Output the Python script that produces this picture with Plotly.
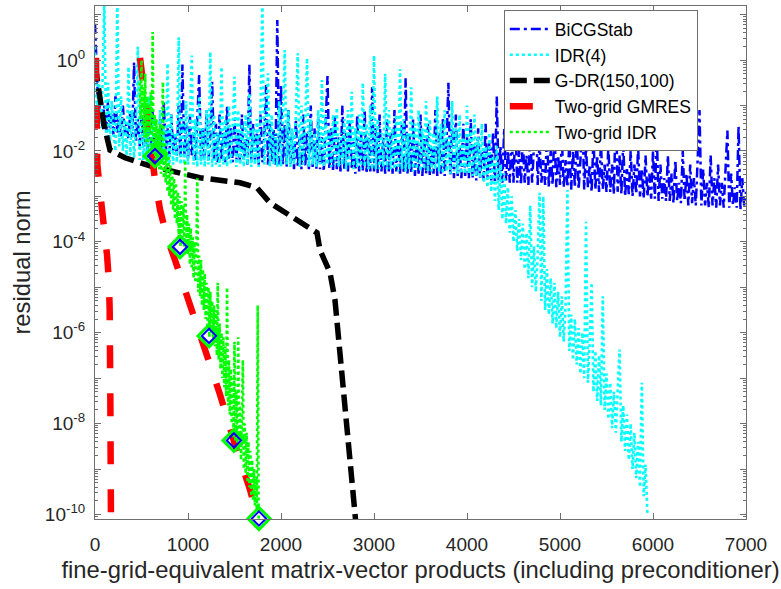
import plotly.graph_objects as go

# ---------------- data (x: matrix-vector products, e: log10 of residual norm) -------------
# BiCGStab: one value every 20 matrix-vector products, 0 .. 7000
bicg_x = list(range(0, 7001, 20))
bicg_e = [
    0.8, -0.4, -1.3, -0.7, -1.5, -1.0, -1.6, -0.9, -1.5, -1.2, -1.65, -0.8, -1.6, -1.3, -1.7, -1.0, -1.6, -1.4, -1.75, -1.1, -1.7, -0.05, -1.8, -1.3, -1.9,
    -1.2, -1.9, -1.0, -2.0, -1.5, -1.9, -1.1, -2.05, -1.6, -2.0, -1.3, -2.1, -0.9, -2.0, -1.5, -2.1, -1.2, -2.0, -1.6, -2.1, -1.0, -2.15, -0.1, -2.1, -1.4,
    -2.2, -1.2, -2.1, -1.6, -2.2, -1.3, -0.33, -2.2, -1.5, -2.15, -1.1, -2.2, -1.7, -0.48, -2.2, -1.4, -2.25, -1.2, -2.2, -1.6, -2.25, -1.0, -2.2, -1.5, -2.25,
    -1.3, -2.2, -1.6, -2.25, -1.2, -2.2, -1.7, -2.3, -0.1, -2.25, -1.4, -2.2, -1.6, -2.3, -1.2, -2.25, -1.7, -0.55, -2.3, -1.4, -2.25, -1.5, -2.3, 0.88, -2.3,
    -0.55, -2.3, -1.4, -2.35, -1.1, -2.3, -1.6, -2.4, -1.3, -2.35, -1.7, -2.4, -1.2, -2.35, -1.6, -2.4, -1.0, -2.35, -1.5, -2.4, -1.3, -2.4, -1.7, -2.45, -1.2,
    -0.35, -2.4, -1.5, -2.45, -1.2, -2.4, -1.7, -2.45, -1.0, -2.4, -1.6, -2.45, -1.3, -2.4, -1.8, -2.5, -1.2, -2.45, -1.6, -2.45, -1.1, -2.5, -1.7, -2.45, -0.6,
    -2.45, -1.5, -2.5, -1.2, -2.45, -1.7, -2.5, -1.3, -2.45, -1.6, -2.5, -1.1, -2.45, -1.8, -2.5, -1.4, -2.5, -0.4, -2.5, -1.6, -2.5, -1.3, -2.55, -1.8, -2.5,
    -1.2, -2.55, -1.7, -2.5, -1.4, -2.55, -1.9, -2.5, -1.1, -2.55, -1.6, -2.5, -1.3, -2.55, -1.8, -0.5, -2.55, -1.5, -2.6, -1.2, -2.55, -1.9, -2.6, -1.4, -2.55,
    -1.7, -2.6, -1.3, -2.6, -1.9, -2.65, -1.5, -2.6, -2.0, -2.65, -1.4, -2.6, -1.8, -2.65, -1.6, -2.7, -0.8, -2.65, -1.9, -2.7, -1.5, -2.65, -2.0, -2.7, -1.6,
    -2.7, -1.4, -2.7, -2.0, -2.75, -1.7, -2.7, -2.1, -2.75, -1.5, -2.7, -1.9, -0.7, -2.75, -1.8, -2.7, -2.2, -2.75, -1.6, -2.8, -2.0, -2.75, -1.5, -2.8, -2.1,
    -2.75, -1.7, -2.8, -2.2, -2.8, -1.8, -2.85, -2.0, -2.8, -1.6, -2.85, -2.2, -1.1, -2.85, -1.9, -2.8, -2.3, -2.9, -1.7, -2.85, -2.1, -2.9, -1.8, -2.85, -2.3,
    -2.9, -1.9, -2.9, -2.3, -2.95, -0.9, -2.9, -2.1, -2.95, -1.8, -3.0, -2.4, -2.95, -2.0, -3.0, -2.3, -2.95, -1.9, -3.0, -2.4, -3.05, -2.1, -3.0, -2.5, -3.05,
    -2.0, -3.05, -1.55, -3.1, -2.3, -3.05, -2.6, -3.1, -2.1, -3.1, -2.5, -3.15, -2.2, -3.1, -2.7, -3.15, -2.0, -3.1, -2.5, -3.2, -2.3, -3.15, -2.6, -3.2, -2.2,
    -1.1, -3.2, -2.4, -3.2, -2.7, -3.25, -2.1, -3.2, -2.6, -3.25, -2.3, -3.2, -2.7, -3.25, -2.2, -1.55, -3.25, -2.5, -3.2, -2.8, -3.25, -1.45, -3.3, -2.6, -3.2,
    -2.9]

# IDR(4): one value every 20 matrix-vector products, 0 .. 5940
idr_x = list(range(0, 5941, 20))
idr_e = [
    0.3, -1.2, -0.3, -1.5, -0.6, 1.3, -1.7, -0.5, -1.9, -0.9, -1.6, -2.0, 1.3, -1.9, -0.8, -2.0, -1.3, -2.1, -0.15, -2.1, -1.1, -2.15, -1.5, 0.29, -2.2,
    -1.0, -2.2, -1.4, -2.25, -0.8, -2.2, -1.3, -2.25, -1.6, -2.2, -1.1, -2.3, -1.5, -2.25, -0.07, -2.3, -1.2, -2.3, -1.6, -2.25, 0.5, -2.3, -1.3, -2.3, -0.9,
    -2.3, -1.4, 0.1, -2.3, -1.3, -2.35, -0.8, -2.3, -1.5, -2.35, -1.1, -2.3, 0.18, -2.35, -1.2, -2.3, -1.6, -2.35, -0.15, -2.3, -1.3, -2.35, -1.0, -2.3, -1.5,
    -0.37, -2.35, -1.1, -2.3, -1.4, -2.35, -1.2, -2.3, -0.73, -2.35, -1.5, -2.3, -1.3, -2.35, -1.0, 1.3, -2.3, -1.4, -0.29, -2.35, -1.2, -2.3, -1.6, -2.35, -0.9,
    -2.35, -1.3, 0.22, -2.3, -1.1, -2.35, -1.5, -2.3, -1.2, 0.15, -2.35, -1.0, -2.3, -1.4, 0.04, -2.35, -1.3, -2.3, -1.6, -2.35, -1.1, -2.3, -0.44, -2.35, -1.2,
    -2.3, -1.5, -2.35, -1.2, -2.3, -1.05, -2.35, -1.6, -2.3, -1.3, -2.4, -1.1, -2.35, -0.7, -2.4, -1.5, -2.35, -1.2, -2.4, -0.5, -2.35, -1.4, -2.4, -1.0, -2.4,
    0.1, -2.4, -1.3, -2.4, -1.6, -2.35, -0.3, -2.4, -1.1, -2.4, -1.5, -2.4, -1.2, -2.45, -0.2, -2.4, -1.3, -2.45, -1.6, -2.4, -0.6, -2.45, -1.4, -2.4, -1.1,
    -2.45, -1.5, -2.4, -0.9, -2.45, -1.3, -2.45, -1.6, -2.4, -0.8, -2.45, -1.4, -2.5, -1.1, -2.45, -1.7, -2.5, -0.9, -2.45, -1.5, -2.5, -1.2, -2.5, -1.7, -2.5,
    -1.0, -2.5, -1.5, -2.55, -1.2, -2.55, -1.7, -2.6, -1.4, -2.7, -1.9, -2.8, -1.6, -2.9, -2.1, -3.1, -1.9, -3.3, -2.3, -3.5, -2.5, -3.6, -2.8, -3.8, -3.0,
    -4.0, -3.3, -4.2, -3.5, -4.4, -3.6, -4.6, -3.8, -4.8, -3.2, -5.0, -4.1, -5.1, -4.3, -2.92, -5.3, -3.0, -5.5, -4.6, -5.6, -4.8, -5.8, -4.9, -5.9, -5.1,
    -6.1, -5.2, -6.2, -5.4, -2.86, -6.4, -5.6, -6.6, -5.7, -6.7, -5.9, -6.9, -6.0, -7.0, -3.56, -7.1, -6.2, -4.9, -7.3, -6.4, -7.5, -6.5, -7.6, -5.2, -7.7,
    -6.9, -7.9, -7.1, -8.1, -7.3, -8.2, -7.4, -6.37, -8.4, -7.6, -8.6, -7.8, -8.8, -8.0, -9.0, -8.2, -9.2, -8.4, -9.4, -7.1, -9.6, -8.9, -10.0]

# G-DR(150,100)
gdr_x = [0, 54, 97, 161, 323, 591, 860, 1129, 1559, 1742, 1881, 2204, 2387, 2419, 2527, 2580, 2634, 2688, 2742, 2810]
gdr_e = [-0.1, -0.88, -1.43, -1.98, -2.15, -2.33, -2.46, -2.59, -2.70, -2.81, -3.14, -3.58, -3.80, -4.18, -4.68,
         -5.27, -6.37, -7.47, -8.57, -10.3]

# Two-grid GMRES (two runs drawn with the same style)
tg_gmres1_x = [10, 10, 15, 25, 60, 100, 130, 150, 158, 165, 172]
tg_gmres1_e = [0.05, -1.6, -2.0, -2.3, -3.0, -3.7, -4.3, -4.9, -5.5, -7.5, -10.3]
tg_gmres2_x = [484, 520, 560, 600, 645, 700, 774, 860, 1021, 1183, 1344, 1505, 1666, 1765]
tg_gmres2_e = [0.05, -0.6, -1.4, -2.1, -2.64, -3.3, -3.9, -4.4, -5.38, -6.42, -7.36, -8.46, -9.45, -10.2]

# Two-grid IDR: one value every 10 matrix-vector products, 480 .. 1760
tg_idr_x = list(range(480, 1761, 10))
tg_idr_e = [
    -0.5, -1.3, 0.0, -1.5, -0.6, -1.7, -0.3, -1.8, -0.8, -1.9, -1.0, -1.6, -0.7, -2.0, 0.62, -2.1, -1.2, -2.2, -1.3, -2.3, -1.5, -2.4, -1.4, -2.5, -1.7,
    -0.48, -2.6, -1.8, -2.7, -2.0, -2.9, -2.1, -3.0, -2.3, -3.2, -2.4, -3.3, -2.6, -3.5, -2.7, -3.6, -2.9, -3.9, -3.0, -4.1, -3.1, -3.9, -3.2, -4.1, -2.2,
    -4.2, -3.4, -4.3, -3.6, -4.5, -3.7, -4.6, -3.9, -4.8, -4.0, -4.9, -4.1, -2.6, -5.1, -4.3, -5.2, -4.4, -5.4, -4.6, -5.5, -4.7, -5.7, -4.9, -5.9, -5.0,
    -6.1, -5.1, -6.0, -5.3, -6.2, -5.4, -6.3, -5.5, -6.5, -4.9, -6.6, -5.8, -6.8, -6.0, -7.0, -6.1, -7.2, -6.3, -7.4, -5.0, -7.6, -6.6, -7.8, -6.8, -8.0,
    -7.0, -8.3, -6.2, -8.4, -7.3, -8.5, -6.1, -8.6, -7.6, -8.8, -7.8, -6.6, -9.0, -8.0, -9.1, -8.2, -9.3, -8.4, -9.4, -8.6, -9.6, -8.8, -9.7, -9.0, -9.8,
    -9.2, -9.9, -5.4, -10.1]

# Two-grid IDR cycle ends (diamonds)
cycle_x = [645, 914, 1226, 1494, 1763]
cycle_e = [-2.11, -4.11, -6.07, -8.37, -10.09]

legend_names = ["BiCGStab", "IDR(4)", "G-DR(150,100)", "Two-grid GMRES", "Two-grid IDR"]
xtick_vals = [0, 1000, 2000, 3000, 4000, 5000, 6000, 7000]
ydecades = list(range(-10, 2))


def lin(e):
    return [None if v is None else 10 ** v for v in e]


FONT = "Liberation Sans, Arial, sans-serif"
TXT = "#262626"
AX = "#6e6e6e"

fig = go.Figure()
fig.add_trace(go.Scatter(x=bicg_x, y=lin(bicg_e), mode="lines", name=legend_names[0], legendgroup="a",
                         line=dict(color="#0000ff", width=2.5, dash="10px,4px,3px,4px")))
fig.add_trace(go.Scatter(x=idr_x, y=lin(idr_e), mode="lines", name=legend_names[1], legendgroup="b",
                         line=dict(color="#00ffff", width=2.6, dash="3px,3px")))
fig.add_trace(go.Scatter(x=gdr_x, y=lin(gdr_e), mode="lines", name=legend_names[2], legendgroup="c",
                         line=dict(color="#000000", width=5.5, dash="17px,7px")))
fig.add_trace(go.Scatter(x=tg_gmres1_x + [None] + tg_gmres2_x, y=lin(tg_gmres1_e + [None] + tg_gmres2_e),
                         mode="lines", name=legend_names[3], legendgroup="d", connectgaps=False,
                         line=dict(color="#ff0000", width=6.5, dash="23px,25px")))
fig.add_trace(go.Scatter(x=tg_idr_x, y=lin(tg_idr_e), mode="lines", name=legend_names[4], legendgroup="e",
                         line=dict(color="#00ff00", width=2.6, dash="3px,3px")))
fig.add_trace(go.Scatter(x=cycle_x, y=lin(cycle_e), mode="markers", showlegend=False, cliponaxis=False,
                         marker=dict(symbol="diamond-open", size=17, color="#00ff00", line=dict(width=3, color="#00ff00"))))
fig.add_trace(go.Scatter(x=cycle_x, y=lin(cycle_e), mode="markers", showlegend=False, cliponaxis=False,
                         marker=dict(symbol="diamond-open", size=11, color="#0000ff", line=dict(width=2, color="#0000ff"))))

minor_vals = [m * 10 ** k for k in range(-11, 2) for m in range(2, 10)]

fig.update_layout(
    width=781, height=589,
    margin=dict(l=95, r=35, t=6, b=70),
    paper_bgcolor="white", plot_bgcolor="white",
    font=dict(family=FONT, color=TXT, size=19),
    showlegend=True,
    legend=dict(x=0.628, y=0.992, xanchor="left", yanchor="top", bgcolor="white",
                bordercolor=AX, borderwidth=1, font=dict(size=17.5, color="#000000"),
                traceorder="grouped", tracegroupgap=0, itemwidth=40),
    xaxis=dict(range=[0, 7000], tickvals=xtick_vals, ticktext=[str(v) for v in xtick_vals],
               ticks="inside", ticklen=6, tickcolor=AX, showline=True, linecolor=AX, linewidth=1,
               mirror="ticks", showgrid=False, zeroline=False, ticklabelstandoff=8,
               title=dict(text="fine-grid-equivalent matrix-vector products (including preconditioner)",
                          font=dict(size=23.8), standoff=7)),
    yaxis=dict(type="log", range=[-10.1, 1.19], tickvals=[10 ** k for k in ydecades],
               ticktext=[("10<sup>%d</sup>" % k) if k % 2 == 0 else "" for k in ydecades],
               ticks="inside", ticklen=6, tickcolor=AX, showline=True, linecolor=AX, linewidth=1,
               mirror="ticks", showgrid=False, zeroline=False, ticklabelstandoff=5,
               minor=dict(tickvals=minor_vals, ticks="inside", ticklen=3, tickcolor=AX, showgrid=False),
               title=dict(text="residual norm", font=dict(size=23.8), standoff=7)),
)

fig.write_html("out.html")
